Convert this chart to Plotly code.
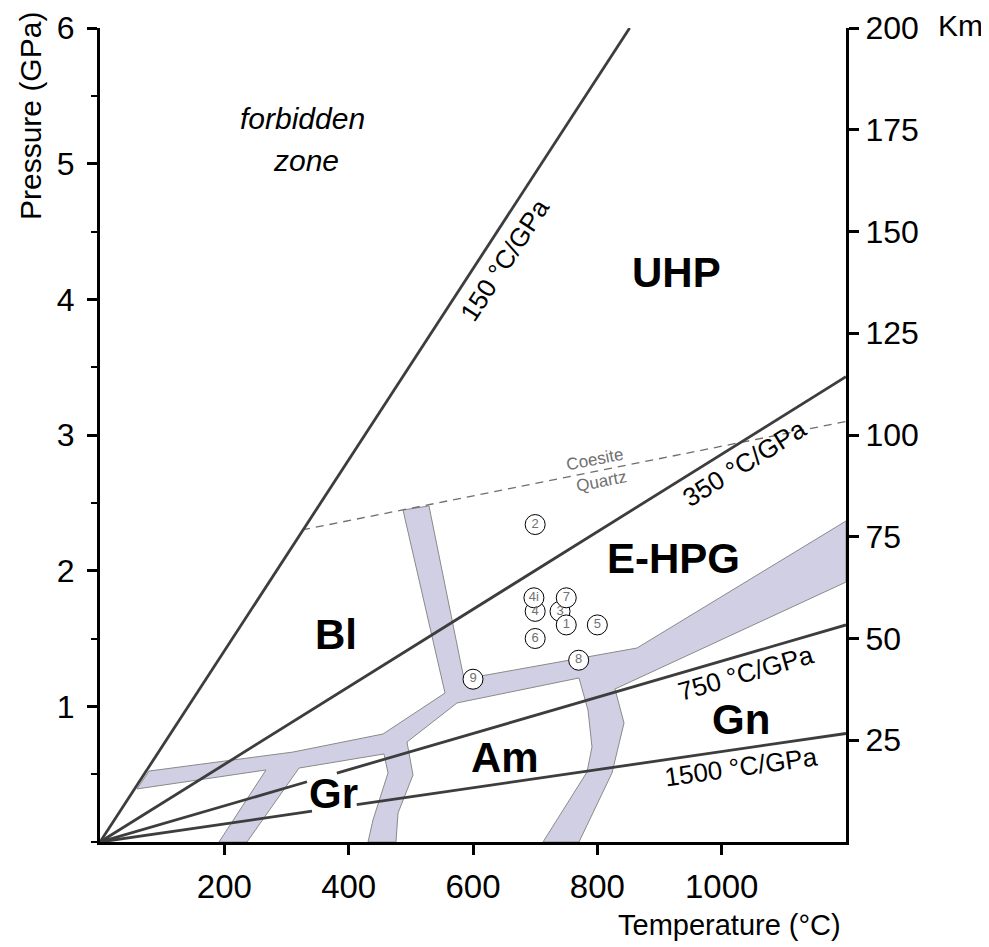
import plotly.graph_objects as go

# ---------------- data ----------------
# facies-boundary band outline (Temperature °C, Pressure GPa)
band_T = [78.8, 310.5, 455.2, 555.0, 487.4, 529.2, 585.5, 863.8, 1200, 1200,
          828.4, 842.9, 823.6, 770.5, 712.6, 783.4, 791.4, 785.0, 770.5, 574.3,
          493.8, 503.5, 479.4, 476.1, 431.1, 439.1, 463.3, 456.8, 320.1, 236.5,
          191.4, 267.0, 59.5]
band_P = [0.523, 0.663, 0.796, 1.098, 2.447, 2.477, 1.201, 1.430, 2.366, 1.916,
          1.128, 0.877, 0.509, 0.0, 0.0, 0.516, 0.700, 0.973, 1.209, 1.025,
          0.737, 0.494, 0.214, 0.0, 0.0, 0.162, 0.509, 0.649, 0.545, 0.0,
          0.0, 0.531, 0.391]

# geothermal gradient lines (segments separated by None)
geo_names = ["150 °C/GPa", "350 °C/GPa", "750 °C/GPa", "1500 °C/GPa"]
geo_T = [[0, 852], [0, 1200], [0, 333, None, 381, 1200], [0, 341, None, 413, 1200]]
geo_P = [[0, 6.0], [0, 3.43], [0, 0.444, None, 0.508, 1.6], [0, 0.227, None, 0.275, 0.8]]
geo_label_T = [651, 1037, 1039, 1031]
geo_label_P = [4.29, 2.79, 1.245, 0.553]
geo_label_angle = [-57, -32, -16, -8]

# coesite–quartz transition
cq_T = [325, 1200]
cq_P = [2.30, 3.10]

# samples (draw order)
samp_id = ["2", "4", "3", "6", "5", "9", "8", "4i", "7", "1"]
samp_T = [700, 700, 740, 700, 800, 600, 770, 698, 750, 750]
samp_P = [2.34, 1.70, 1.70, 1.50, 1.60, 1.20, 1.34, 1.80, 1.80, 1.60]

# facies labels
facies = ["UHP", "E-HPG", "Bl", "Am", "Gr", "Gn"]
facies_T = [927, 923, 380, 651, 376, 1031]
facies_P = [4.20, 2.09, 1.53, 0.62, 0.36, 0.90]

x_ticks = [200, 400, 600, 800, 1000]
y_ticks = [1, 2, 3, 4, 5, 6]
km_ticks = [25, 50, 75, 100, 125, 150, 175, 200]

# ---------------- figure ----------------
FONT = "Liberation Sans, Arial, sans-serif"
LINE_C = "#3d3d3d"

fig = go.Figure()

fig.add_trace(go.Scatter(
    x=band_T + band_T[:1], y=band_P + band_P[:1], mode="lines", fill="toself",
    fillcolor="#D1CFE4", line=dict(color="#8a8a8a", width=1),
    hoverinfo="skip", showlegend=False))

fig.add_trace(go.Scatter(
    x=cq_T, y=cq_P, mode="lines",
    line=dict(color="#6e6e6e", width=1.3, dash="8px,6px"),
    hoverinfo="skip", showlegend=False))

for name, xs, ys in zip(geo_names, geo_T, geo_P):
    fig.add_trace(go.Scatter(x=xs, y=ys, mode="lines", name=name,
                             line=dict(color=LINE_C, width=2.8),
                             connectgaps=False, showlegend=False))

fig.add_trace(go.Scatter(
    x=samp_T, y=samp_P, mode="markers+text", text=samp_id,
    textposition="middle center",
    textfont=dict(family=FONT, size=13, color="#707070"),
    marker=dict(size=20, color="white", line=dict(color="black", width=1)),
    cliponaxis=False, showlegend=False))

# dummy trace on the km axis
fig.add_trace(go.Scatter(x=[None], y=[None], yaxis="y2", showlegend=False))

ann = []
for name, tx, ty, ang in zip(geo_names, geo_label_T, geo_label_P, geo_label_angle):
    ann.append(dict(x=tx, y=ty, xref="x", yref="y", text=name, showarrow=False,
                    textangle=ang, font=dict(family=FONT, size=26, color="black")))
for name, tx, ty in zip(facies, facies_T, facies_P):
    ann.append(dict(x=tx, y=ty, xref="x", yref="y", text="<b>%s</b>" % name,
                    showarrow=False, font=dict(family=FONT, size=42, color="black")))
ann += [
    dict(x=325, y=5.33, xref="x", yref="y", text="<i>forbidden</i>", showarrow=False,
         font=dict(family=FONT, size=30, color="black")),
    dict(x=331, y=5.02, xref="x", yref="y", text="<i>zone</i>", showarrow=False,
         font=dict(family=FONT, size=30, color="black")),
    dict(x=796, y=2.82, xref="x", yref="y", text="Coesite", showarrow=False, textangle=-11,
         font=dict(family=FONT, size=17, color="#707070")),
    dict(x=806, y=2.655, xref="x", yref="y", text="Quartz", showarrow=False, textangle=-11,
         font=dict(family=FONT, size=17, color="#707070")),
    dict(x=(30 - 100) / 746, y=(842 - 116) / 814, xref="paper", yref="paper",
         xanchor="center", yanchor="middle",
         text="Pressure (GPa)", textangle=-90, showarrow=False,
         font=dict(family=FONT, size=30, color="black")),
    dict(x=(729 - 100) / 746, y=-(925 - 842) / 814, xref="paper", yref="paper",
         xanchor="center", yanchor="middle",
         text="Temperature (°C)", showarrow=False,
         font=dict(family=FONT, size=29, color="black")),
    dict(x=(960 - 100) / 746, y=(842 - 26) / 814, xref="paper", yref="paper",
         xanchor="center", yanchor="middle",
         text="Km", showarrow=False,
         font=dict(family=FONT, size=30, color="black")),
]

axis_common = dict(showgrid=False, zeroline=False, showline=True, linecolor="black",
                   linewidth=3, ticks="outside", ticklen=10, tickwidth=2.5,
                   tickcolor="black", automargin=False)

# page body adds an 8px offset, margins compensate for it
fig.update_layout(
    width=989, height=947,
    margin=dict(l=92, r=151, t=20, b=113, pad=0),
    paper_bgcolor="white", plot_bgcolor="white",
    showlegend=False,
    xaxis=dict(range=[0, 1200], tickvals=x_ticks, ticklabelstandoff=3,
               tickfont=dict(family=FONT, size=33, color="black"), **axis_common),
    yaxis=dict(range=[0, 6], tickvals=y_ticks, ticklabelstandoff=6,
               tickfont=dict(family=FONT, size=32, color="black"),
               minor=dict(dtick=0.5, ticks="outside", ticklen=6, tickwidth=2,
                          tickcolor="black", showgrid=False),
               **axis_common),
    yaxis2=dict(range=[0, 200], tickvals=km_ticks, overlaying="y", side="right",
                tickfont=dict(family=FONT, size=32, color="black"), **axis_common),
    annotations=ann,
)

fig.write_html("out.html")
